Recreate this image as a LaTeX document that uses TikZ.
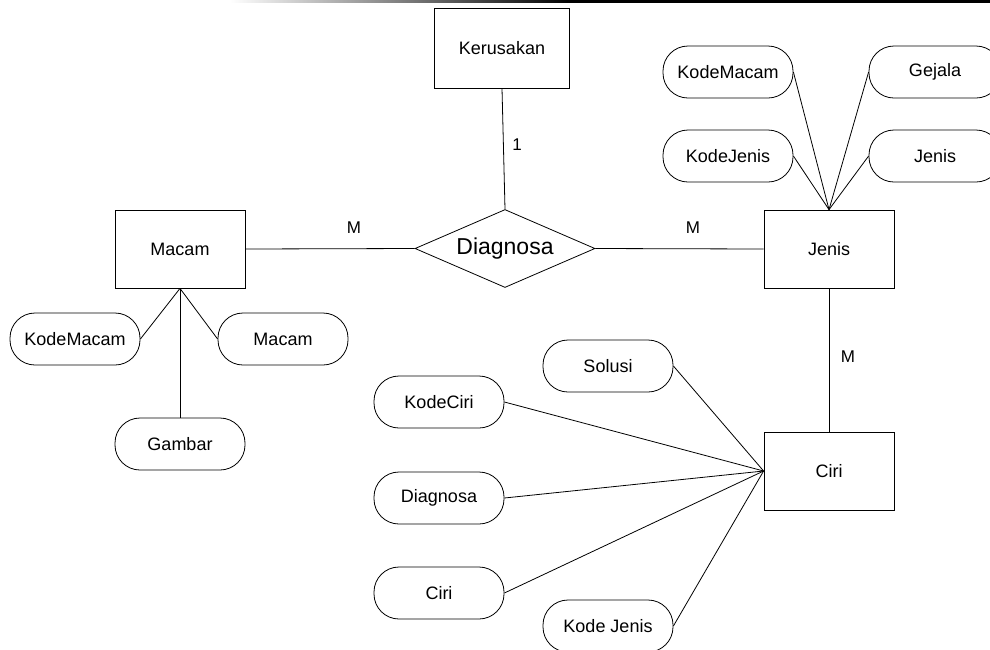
\documentclass[tikz,border=0pt]{standalone}
\usepackage{fontspec}
\setmainfont{Liberation Sans}
\usetikzlibrary{shapes.geometric}
\begin{document}
\begin{tikzpicture}[x=1pt,y=-1pt,
  ent/.style={draw,line width=0.8pt,minimum width=130pt,minimum height=78pt,inner sep=0pt,font=\fontsize{18}{20}\selectfont},
  attr/.style={draw,line width=0.8pt,rounded corners=25pt,minimum width=130pt,minimum height=52pt,inner sep=0pt,font=\fontsize{18}{20}\selectfont},
  rel/.style={draw,line width=0.8pt,diamond,aspect=2.33,minimum width=180pt,minimum height=78pt,inner sep=0pt,font=\fontsize{23}{26}\selectfont},
  lbl/.style={font=\fontsize{17}{19}\selectfont,inner sep=0pt},
  conn/.style={line width=0.8pt}]
\useasboundingbox (0,0) rectangle (990,649);
\begin{scope}
\clip (0,0) rectangle (990,649);
\shade[left color=white,right color=black] (230,0) rectangle (570,2.5);
\fill[black] (570,0) rectangle (990,2.5);
% entities
\node[ent,minimum width=135pt,minimum height=80pt] (kerusakan) at (502,48) {Kerusakan};
\node[ent] (macam) at (180,249) {Macam};
\node[ent] (jenis) at (829,249) {Jenis};
\node[ent] (ciri) at (829,471) {Ciri};
\node[rel] (diag) at (505,248.5) {Diagnosa};
% Jenis attributes
\node[attr] (jkm) at (728,72) {KodeMacam};
\node[attr,minimum width=132pt] (jgj) at (935,72) {Gejala};
\node[attr] (jkj) at (728,156) {KodeJenis};
\node[attr,minimum width=132pt] (jjn) at (935,156) {Jenis};
% Macam attributes
\node[attr] (mkm) at (75,339) {KodeMacam};
\node[attr] (mmc) at (283,339) {Macam};
\node[attr] (mgb) at (180,444) {Gambar};
% Ciri attributes
\node[attr] (csl) at (608,366) {Solusi};
\node[attr] (ckc) at (439,402) {KodeCiri};
\node[attr] (cdg) at (439,498) {Diagnosa};
\node[attr] (ccr) at (439,593) {Ciri};
\node[attr] (ckj) at (608,626) {Kode Jenis};
% relationships
\draw[conn] (kerusakan.south) -- (diag.north);
\draw[conn] (macam.east) -- (diag.west);
\draw[conn] (diag.east) -- (jenis.west);
\draw[conn] (jenis.south) -- (ciri.north);
\node[lbl] (l1) at (517,145) {1};
\node[lbl] (l2) at (354,228) {M};
\node[lbl] (l3) at (693,228) {M};
\node[lbl] (l4) at (848,357) {M};
% attribute links
\foreach \a in {jkm,jkj} \draw[conn] (\a.east) -- (jenis.north);
\foreach \a in {jgj,jjn} \draw[conn] (\a.west) -- (jenis.north);
\draw[conn] (mkm.east) -- (macam.south);
\draw[conn] (mmc.west) -- (macam.south);
\draw[conn] (mgb.north) -- (macam.south);
\foreach \a in {csl,ckc,cdg,ccr,ckj} \draw[conn] (\a.east) -- (ciri.west);
\end{scope}
\end{tikzpicture}
\end{document}
